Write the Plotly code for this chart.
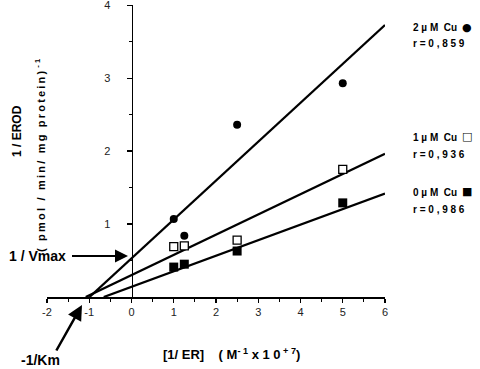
import plotly.graph_objects as go

# ---- data ----
inv_er = [1, 1.25, 2.5, 5]                 # [1/ER] (M^-1 x10^7)
cu2 = [1.07, 0.84, 2.36, 2.93]             # 2 µM Cu, 1/EROD
cu1 = [0.69, 0.70, 0.78, 1.75]             # 1 µM Cu
cu0 = [0.41, 0.45, 0.63, 1.29]             # 0 µM Cu

fit_slope = [0.533, 0.277, 0.213]          # regression lines (2, 1, 0 µM)
fit_icpt = [0.53, 0.30, 0.14]
series_names = ["2 µM Cu", "1 µM Cu", "0 µM Cu"]
series_symbols = ["●", "□", "■"]
r_values = ["0,859", "0,936", "0,986"]

x_ticks = [-2, -1, 0, 1, 2, 3, 4, 5, 6]
x_minor = [-1.5, -0.5, 0.5, 1.5, 2.5, 3.5, 4.5, 5.5]
y_ticks = [1, 2, 3, 4]
y_minor = [0.5, 1.5, 2.5, 3.5]
x_end = 6

W, H = 480, 369
TS = "\u2009"  # thin space used as letter tracking


def px(x):
    return x / W


def py(y):
    return 1 - y / H


def track(s):
    return TS.join(s)


FONT = "Liberation Sans, Arial, Helvetica, sans-serif"

fig = go.Figure()

# regression lines from x-intercept to x_end
for s, b in zip(fit_slope, fit_icpt):
    x0 = -b / s
    xs = [x0, x_end]
    ys = [s * x + b for x in xs]
    fig.add_trace(go.Scatter(x=xs, y=ys, mode="lines",
                             line=dict(color="black", width=2.3),
                             hoverinfo="skip", cliponaxis=False))

fig.add_trace(go.Scatter(x=inv_er, y=cu2, mode="markers", cliponaxis=False,
                         marker=dict(symbol="circle", size=8, color="black")))
fig.add_trace(go.Scatter(x=inv_er, y=cu1, mode="markers", cliponaxis=False,
                         marker=dict(symbol="square", size=8, color="white",
                                     line=dict(color="black", width=1.3))))
fig.add_trace(go.Scatter(x=inv_er, y=cu0, mode="markers", cliponaxis=False,
                         marker=dict(symbol="square", size=9, color="black")))

x_dom = [px(47), px(385)]
y_dom = [py(297), py(5)]
y_axis_pos = x_dom[0] + (0 - x_ticks[0]) / (x_ticks[-1] - x_ticks[0]) * (x_dom[1] - x_dom[0])

fig.update_layout(
    width=W, height=H,
    margin=dict(l=0, r=0, t=0, b=0, autoexpand=False),
    paper_bgcolor="white", plot_bgcolor="white",
    showlegend=False, hovermode=False,
    font=dict(family=FONT, color="black"),
    xaxis=dict(domain=x_dom, range=[x_ticks[0], x_ticks[-1]], anchor="y",
               automargin=False,
               showgrid=False, zeroline=False, showline=True,
               linecolor="black", linewidth=1.5,
               ticks="outside", ticklen=4, tickwidth=1.2, tickcolor="black",
               tickmode="array", tickvals=x_ticks,
               ticktext=[str(v) for v in x_ticks],
               tickfont=dict(size=11, color="#222"),
               minor=dict(tickmode="array", tickvals=x_minor, ticks="outside",
                          ticklen=3, tickwidth=1, tickcolor="black")),
    yaxis=dict(domain=y_dom, range=[0, 4.002], anchor="free", position=y_axis_pos,
               automargin=False, ticklabeloverflow="allow",
               showgrid=False, zeroline=False, showline=True,
               linecolor="black", linewidth=1.5,
               ticks="outside", ticklen=5, tickwidth=1.2, tickcolor="black",
               tickmode="array", tickvals=y_ticks,
               ticktext=[str(v) for v in y_ticks],
               tickfont=dict(size=11, color="#222"), ticklabelstandoff=14,
               minor=dict(tickmode="array", tickvals=y_minor, ticks="outside",
                          ticklen=3, tickwidth=1, tickcolor="black")),
)

ann = []
# y-axis title (two rotated lines)
ann.append(dict(text="<b>1 / EROD</b>", x=px(8), y=py(131), textangle=-90,
                font=dict(size=12)))
ann.append(dict(text="<b>" + track("( pmol / min/ mg protein)") + " <sup>- 1</sup></b>",
                x=px(31), y=py(155), textangle=-90, font=dict(size=11)))
# x-axis title
ann.append(dict(text="<b>[1/ ER]    ( M<sup>- 1</sup> x 1 0<sup> + 7</sup>)</b>",
                x=px(231), y=py(364), font=dict(size=13)))
# legend-like labels
label_y = [(20, 36), (137, 155), (192, 209)]
for name, sym, r, (yn, yr) in zip(series_names, series_symbols, r_values, label_y):
    ann.append(dict(text="<b>%s</b>" % name.replace("µM", "µ M").replace(" Cu", "  Cu"),
                    x=px(411), y=py(yn), xanchor="left", font=dict(size=10)))
    ann.append(dict(text=sym, x=px(474), y=py(yn - 1),
                    font=dict(size=11, family="DejaVu Sans")))
    ann.append(dict(text="<b>r = %s</b>" % " ".join(r), x=px(411), y=py(yr),
                    xanchor="left", font=dict(size=10)))
# 1/Vmax with arrow (text box at tail, arrow tip at intercept)
ann.append(dict(text="<b>1 / Vmax</b>", x=px(128), y=py(256), ax=37 - 128, ay=0,
                showarrow=True, arrowhead=2, arrowsize=1.3, arrowwidth=2,
                arrowcolor="black", borderpad=6, font=dict(size=14)))
# -1/Km with arrow
ann.append(dict(text="<b>-1/Km</b>", x=px(82), y=py(305), ax=51 - 82, ay=360 - 305,
                width=60, align="left",
                showarrow=True, arrowhead=2, arrowsize=1.2, arrowwidth=2.5,
                arrowcolor="black", borderpad=1, font=dict(size=14)))

for a in ann:
    a.setdefault("xref", "paper")
    a.setdefault("yref", "paper")
    a.setdefault("showarrow", False)
fig.update_layout(annotations=ann)

fig.write_html("out.html",
               config={"displayModeBar": False, "staticPlot": True},
               post_script="document.body.style.margin='0';"
                           "document.body.style.overflow='hidden';")
